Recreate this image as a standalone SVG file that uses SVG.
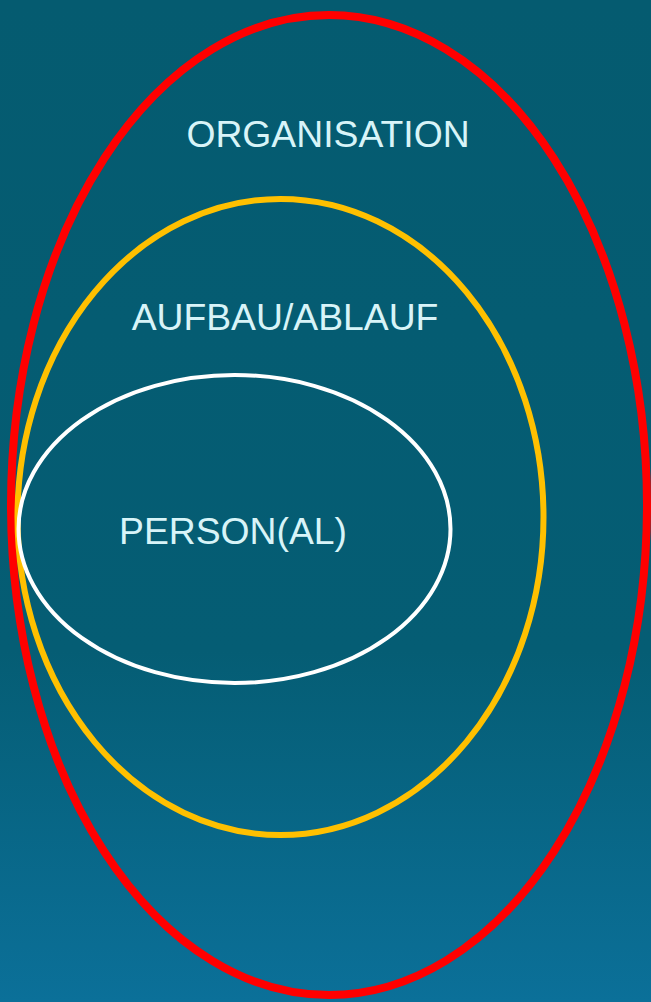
<svg xmlns="http://www.w3.org/2000/svg" width="651" height="1002" viewBox="0 0 651 1002">
<defs>
<linearGradient id="bg" x1="0" y1="0" x2="0" y2="1">
<stop offset="0" stop-color="#055b70"/>
<stop offset="0.65" stop-color="#055d74"/>
<stop offset="1" stop-color="#0b7099"/>
</linearGradient>
<style>
.lbl{font-family:"Liberation Sans",Arial,sans-serif;font-size:37.3px;fill:#d8f4f8;text-anchor:middle}
.ring{fill:none}
</style>
</defs>
<rect width="651" height="1002" fill="url(#bg)"/>
<g id="organisation">
<ellipse class="ring" cx="329" cy="505" rx="318" ry="490" stroke="#ff0000" stroke-width="8"/>
<text class="lbl" x="328" y="147">ORGANISATION</text>
</g>
<g id="aufbau">
<ellipse class="ring" cx="280.5" cy="517" rx="263" ry="318" stroke="#ffc000" stroke-width="6"/>
<text class="lbl" x="285" y="330">AUFBAU/ABLAUF</text>
</g>
<g id="person">
<ellipse class="ring" cx="234.5" cy="529" rx="216" ry="154" stroke="#ffffff" stroke-width="4"/>
<text class="lbl" x="233" y="544">PERSON(AL)</text>
</g>
<g id="connectors"/>
</svg>
